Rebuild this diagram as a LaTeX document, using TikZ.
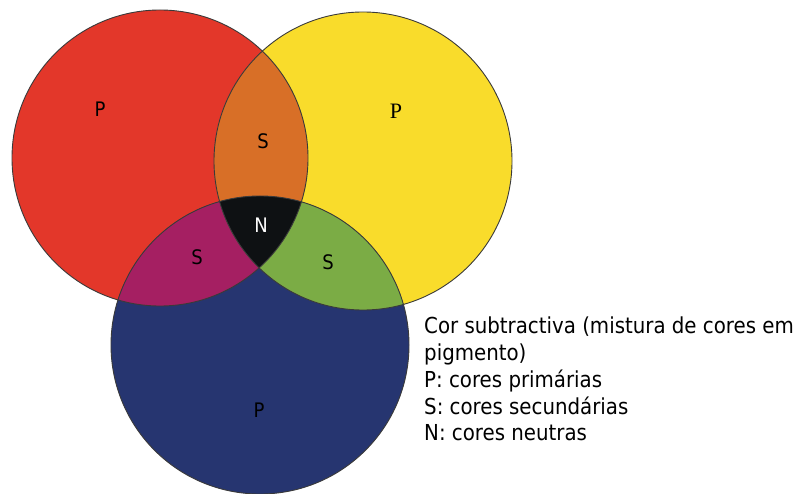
\documentclass[tikz,border=0pt]{standalone}
\usepackage{fontspec}
\setmainfont{DejaVu Sans Condensed}
\newfontfamily\serifP{Liberation Serif}

\definecolor{pigred}{HTML}{E3372A}
\definecolor{pigyellow}{HTML}{F9DC2B}
\definecolor{pigblue}{HTML}{263570}
\definecolor{pigorange}{HTML}{D86F27}
\definecolor{pigpurple}{HTML}{A51F62}
\definecolor{piggreen}{HTML}{7BAC45}
\definecolor{pigblack}{HTML}{0E1113}
\definecolor{rimgray}{HTML}{3A3A3A}

\tikzset{
  rim/.style={draw=rimgray, line width=0.9pt},
  lbl/.style={font=\fontsize{20}{20}\selectfont, inner sep=0pt},
}

\begin{document}
\begin{tikzpicture}[x=1pt,y=-1pt]
        \useasboundingbox (0,0) rectangle (799,494);

        \coordinate (red) at (160,158);
        \coordinate (yel) at (363,161);
        \coordinate (blu) at (260,345);

        \fill[pigred] (red) circle (148pt);
        \fill[pigyellow] (yel) circle (149pt);
        \fill[pigblue] (blu) circle (149pt);

        % mixtures
        \begin{scope}
          \clip (red) circle (148pt);
          \fill[pigorange] (yel) circle (149pt);
          \fill[pigpurple] (blu) circle (149pt);
        \end{scope}
        \begin{scope}
          \clip (yel) circle (149pt);
          \fill[piggreen] (blu) circle (149pt);
          \clip (red) circle (148pt);
          \fill[pigblack] (blu) circle (149pt);
        \end{scope}

        \draw[rim] (red) circle (148pt) (yel) circle (149pt) (blu) circle (149pt);

        \node[lbl] (pRed) at (100,109) {P};
        \node[lbl] (sOrange) at (263,141) {S};
        \node[lbl, font=\serifP\fontsize{22}{22}\selectfont] (pYel) at (396,111) {P};
        \node[lbl, text=white] (nBlack) at (261,225) {N};
        \node[lbl] (sPurple) at (197,257) {S};
        \node[lbl] (sGreen) at (328,262) {S};
        \node[lbl] (pBlue) at (259,410) {P};

        \node[anchor=north west, inner sep=0pt, align=left,
              font=\fontsize{22}{26.7}\selectfont] (legend) at (424,317)
              {Cor subtractiva (mistura de cores em\\pigmento)\\P: cores primárias\\S: cores secundárias\\N: cores neutras};
\end{tikzpicture}
\end{document}
